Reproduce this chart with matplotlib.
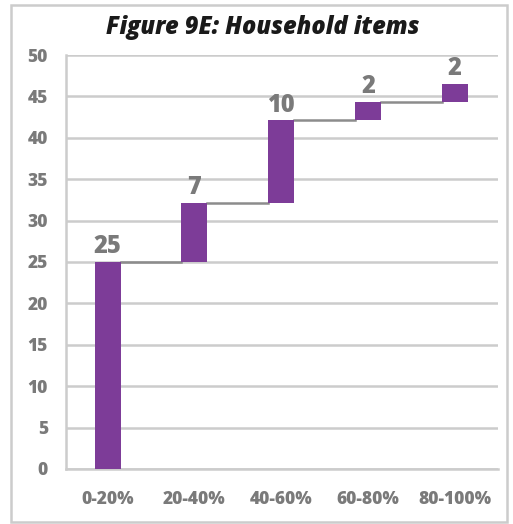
import matplotlib.pyplot as plt
from matplotlib.patches import Rectangle
import numpy as np

categories = ['0-20%', '20-40%', '40-60%', '60-80%', '80-100%']
values = [25, 7.1, 10, 2.2, 2.2]
labels = ['25', '7', '10', '2', '2']
yticks = [0, 5, 10, 15, 20, 25, 30, 35, 40, 45, 50]

purple = '#7d3c98'
grid_grey = '#cccccc'
text_grey = '#7a7a7a'
line_grey = '#8c8c8c'

plt.rcParams['font.family'] = ['Open Sans', 'DejaVu Sans']

fig = plt.figure(figsize=(5.13, 5.24), dpi=100)
ax = fig.add_axes([0.1287, 0.105, 0.971 - 0.1287, 0.895 - 0.105])

x = np.arange(len(categories))
tops = np.cumsum(values)
bottoms = tops - np.array(values)
width = 0.3

ax.bar(x, values, width, bottom=bottoms, color=purple, zorder=3)

# connectors between bars
for i in range(len(x) - 1):
    ax.plot([x[i] + width / 2, x[i + 1] - width / 2], [tops[i], tops[i]],
            color=line_grey, lw=1.8, zorder=2)

for xi, t, lab in zip(x, tops, labels):
    ax.annotate(lab, (xi, t), xytext=(0, 2), textcoords='offset points',
                ha='center', va='bottom', fontsize=17, fontweight='heavy',
                color=text_grey)

ax.set_ylim(0, 50)
ax.set_xlim(-0.48, 4.5)
ax.set_yticks(yticks)
ax.set_xticks(x)
ax.set_xticklabels(categories)
ax.yaxis.grid(True, color=grid_grey, lw=1.8, zorder=0)
ax.set_axisbelow(True)
ax.tick_params(length=0, labelsize=12.5, labelcolor=text_grey)
ax.tick_params(axis='y', pad=13)
ax.tick_params(axis='x', pad=16)
for lab in ax.get_xticklabels() + ax.get_yticklabels():
    lab.set_fontweight('heavy')

for s in ['top', 'right']:
    ax.spines[s].set_visible(False)
ax.spines['left'].set_color(grid_grey)
ax.spines['left'].set_linewidth(1.8)
ax.spines['bottom'].set_color(grid_grey)
ax.spines['bottom'].set_linewidth(1.8)

fig.text(0.513, 1 - 28 / 524, 'Figure 9E: Household items', ha='center',
         va='center', fontsize=17, fontweight='heavy', fontstyle='italic',
         color='#1a1a1a')

fig.patches.append(Rectangle((11 / 513, 2 / 524), 496 / 513, 517 / 524,
                             transform=fig.transFigure, fill=False,
                             edgecolor=grid_grey, lw=1.8))

fig.savefig('out.png', dpi=100)
